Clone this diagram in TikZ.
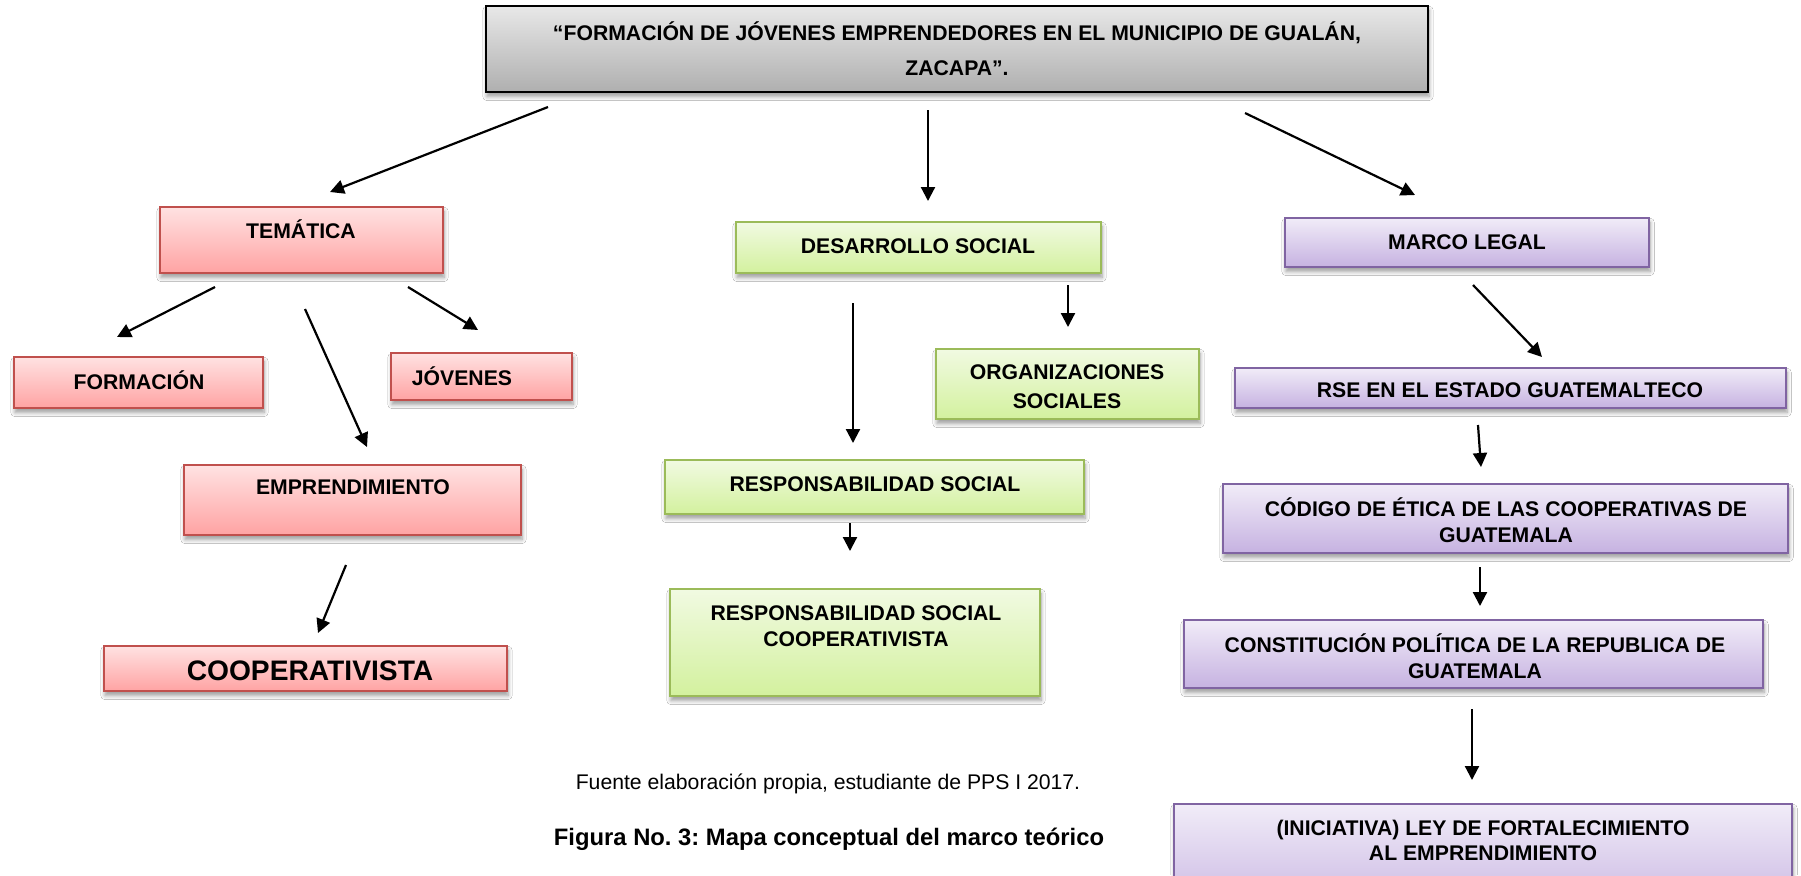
\documentclass[tikz,border=0pt]{standalone}
\usepackage{fontspec}
\setmainfont{Liberation Sans}
\usetikzlibrary{arrows.meta,shadows.blur}
\frenchspacing
\definecolor{redT}{HTML}{FFE2E2}
\definecolor{redBt}{HTML}{FFA3A3}
\definecolor{redD}{HTML}{C0504D}
\definecolor{grnT}{HTML}{F1FAE2}
\definecolor{grnBt}{HTML}{D3F19E}
\definecolor{grnD}{HTML}{9BBB59}
\definecolor{purT}{HTML}{F1ECF8}
\definecolor{purBt}{HTML}{C6B2E1}
\definecolor{purD}{HTML}{8064A2}
\definecolor{gryT}{HTML}{E8E8E8}
\definecolor{gryBt}{HTML}{AFAFAF}
\tikzset{
  box/.style={rectangle, inner sep=0pt, line width=1pt,
    blur shadow={shadow xshift=0.5pt, shadow yshift=-2.2pt, shadow blur steps=6, shadow opacity=40}},
  redbox/.style={box, draw=redD, top color=redT, bottom color=redBt},
  grnbox/.style={box, draw=grnD, top color=grnT, bottom color=grnBt},
  purbox/.style={box, draw=purD, top color=purT, bottom color=purBt},
  grybox/.style={box, draw=black, top color=gryT, bottom color=gryBt},
  lbl/.style={font=\fontsize{10.6}{13}\selectfont\bfseries, align=center, inner sep=0pt},
  arr/.style={line width=1.1pt, -{Triangle[length=7pt,width=7pt]}},
}
\begin{document}
\begin{tikzpicture}[x=0.5pt,y=-0.5pt]
\useasboundingbox (0,0) rectangle (1801,875);
\fill[white] (0,0) rectangle (1801,875);
\clip (0,0) rectangle (1801,875);
% boxes
\node[grybox, minimum width=471pt, minimum height=43pt] (top) at (957,49) {};
\node[redbox, minimum width=141.5pt, minimum height=33pt] (tem) at (301.5,240) {};
\node[redbox, minimum width=124.5pt, minimum height=25.5pt] (form) at (138.5,382.5) {};
\node[redbox, minimum width=90.5pt, minimum height=23.5pt] (jov) at (481.5,376.5) {};
\node[redbox, minimum width=168.5pt, minimum height=35pt] (empr) at (352.5,500) {};
\node[redbox, minimum width=201.5pt, minimum height=22.5pt] (coop) at (305.5,668.5) {};
\node[grnbox, minimum width=182.5pt, minimum height=25.5pt] (des) at (918.5,247.5) {};
\node[grnbox, minimum width=131.5pt, minimum height=35pt] (org) at (1067.5,384) {};
\node[grnbox, minimum width=209.5pt, minimum height=27pt] (rs) at (874.5,487) {};
\node[grnbox, minimum width=185pt, minimum height=53.5pt] (rsc) at (855,642.5) {};
\node[purbox, minimum width=182pt, minimum height=24.5pt] (marco) at (1467,242.5) {};
\node[purbox, minimum width=275.5pt, minimum height=20pt] (rse) at (1510.5,388) {};
\node[purbox, minimum width=282.5pt, minimum height=34.5pt] (cod) at (1505.5,518.5) {};
\node[purbox, minimum width=289.5pt, minimum height=34pt] (const) at (1473.5,654) {};
\node[purbox, minimum width=309pt, minimum height=58pt] (ini) at (1483,862) {};
% texts
\node[lbl, font=\fontsize{10.6}{17.5}\selectfont\bfseries] (topt) at (957,49) {“FORMACIÓN DE JÓVENES EMPRENDEDORES EN EL MUNICIPIO DE GUALÁN,\\ZACAPA”.};
\node[lbl] (temt) at (301,229) {TEMÁTICA};
\node[lbl] (formt) at (139,380) {FORMACIÓN};
\node[lbl] (jovt) at (462,376) {JÓVENES};
\node[lbl] (emprt) at (353,487) {EMPRENDIMIENTO};
\node[lbl, font=\fontsize{14.1}{17}\selectfont\bfseries] (coopt) at (310,671) {COOPERATIVISTA};
\node[lbl] (dest) at (918,246) {DESARROLLO SOCIAL};
\node[lbl, font=\fontsize{10.6}{14.5}\selectfont\bfseries] (orgt) at (1067,387) {ORGANIZACIONES\\SOCIALES};
\node[lbl] (rst) at (875,484) {RESPONSABILIDAD SOCIAL};
\node[lbl] (rsct) at (856,626) {RESPONSABILIDAD SOCIAL\\COOPERATIVISTA};
\node[lbl] (marcot) at (1467,242) {MARCO LEGAL};
\node[lbl] (rset) at (1510,390) {RSE EN EL ESTADO GUATEMALTECO};
\node[lbl] (codt) at (1506,520) {CÓDIGO DE ÉTICA DE LAS COOPERATIVAS DE\\GUATEMALA};
\node[lbl] (constt) at (1475,656) {CONSTITUCIÓN POLÍTICA DE LA REPUBLICA DE\\GUATEMALA};
\node[lbl, font=\fontsize{10.6}{12.5}\selectfont\bfseries] (init) at (1483,840) {(INICIATIVA) LEY DE FORTALECIMIENTO\\AL EMPRENDIMIENTO};
\node[inner sep=0pt, font=\fontsize{10.6}{12}\selectfont] (fuente) at (828,784) {Fuente elaboración propia, estudiante de PPS I 2017.};
\node[inner sep=0pt, font=\fontsize{11.9}{14}\selectfont\bfseries] (figura) at (829,839) {Figura No. 3: Mapa conceptual del marco teórico};
% arrow end points
\coordinate (s1) at (548,107);  \coordinate (e1) at (330,192);
\coordinate (s2) at (928,110);  \coordinate (e2) at (928,201);
\coordinate (s3) at (1245,113); \coordinate (e3) at (1415,195);
\coordinate (s4) at (215,287);  \coordinate (e4) at (117,337);
\coordinate (s5) at (305,309);  \coordinate (e5) at (367,447);
\coordinate (s6) at (408,287);  \coordinate (e6) at (478,330);
\coordinate (s7) at (346,565);  \coordinate (e7) at (318,633);
\coordinate (s8) at (853,303);  \coordinate (e8) at (853,443);
\coordinate (s9) at (1068,285); \coordinate (e9) at (1068,327);
\coordinate (s10) at (850,523); \coordinate (e10) at (850,551);
\coordinate (s11) at (1473,285); \coordinate (e11) at (1542,357);
\coordinate (s12) at (1478,425); \coordinate (e12) at (1481,467);
\coordinate (s13) at (1480,567); \coordinate (e13) at (1480,606);
\coordinate (s14) at (1472,709); \coordinate (e14) at (1472,780);
\foreach \i in {1,...,14} { \draw[arr] (s\i) -- (e\i); }
\end{tikzpicture}
\end{document}
